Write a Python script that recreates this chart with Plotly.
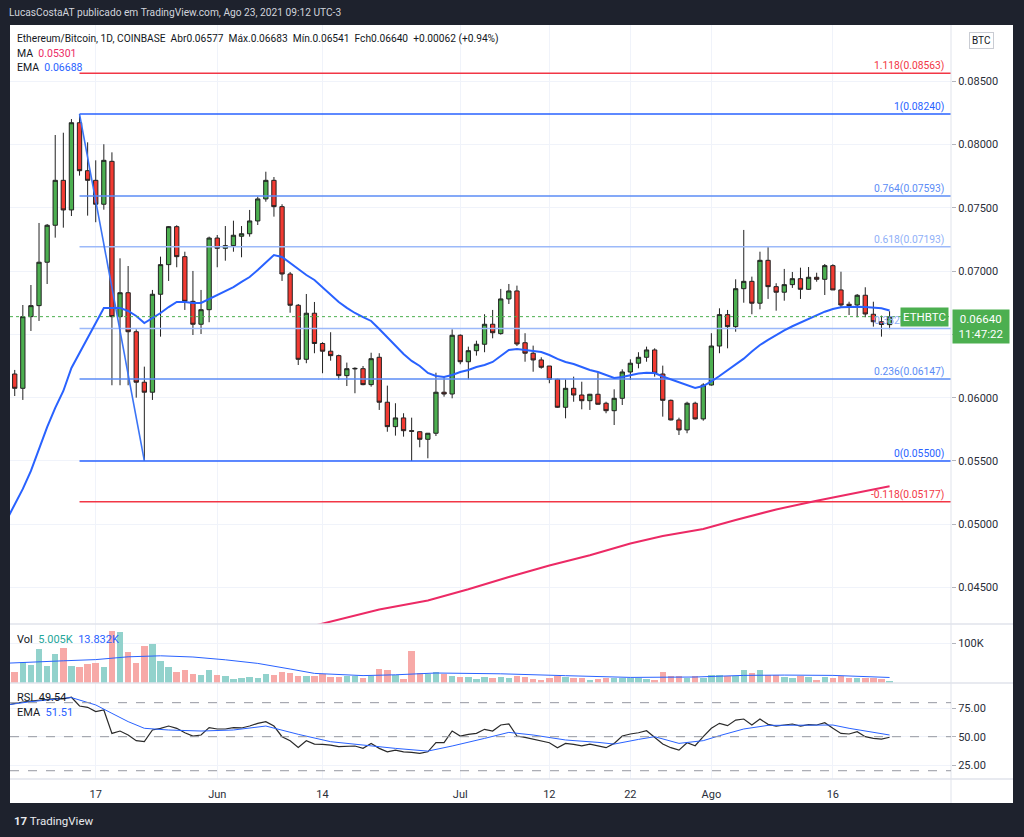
import plotly.graph_objects as go
import pandas as pd

W, H = 1024, 837

# ---------------- data ----------------
dates = pd.date_range("2021-05-07", periods=109, freq="D")

open_ = [
    .06187, .06074, .06640, .06727, .07070, .07362, .07717, .07483, .08172, .07793,
    .07717, .07528, .07867, .06640, .06829, .06521, .06122, .06043, .06817, .07051,
    .07351, .07114, .06761, .06580, .06695, .07261, .07180, .07201, .07275, .07295,
    .07396, .07570, .07717, .07509, .06977, .06730, .06303, .06667, .06428, .06367,
    .06332, .06174, .06227, .06229, .06103, .06319, .05964, .05771, .05840, .05739,
    .05731, .05671, .05719, .06043, .06029, .06493, .06284, .06371, .06422, .06580,
    .06506, .06780, .06843, .06434, .06351, .06298, .06250, .06145, .05924, .06074,
    .06021, .05976, .06027, .05956, .05897, .05995, .06203, .06272, .06319, .06377,
    .06187, .05979, .05824, .05745, .05956, .05832, .06100, .06408, .06656, .06561,
    .06861, .06919, .06746, .07085, .06877, .06833, .06893, .06940, .06856, .06951,
    .06935, .07043, .06851, .06738, .06732, .06809, .06659, .06600, .06577]
high = [
    .06219, .06732, .06890, .07380, .07372, .08075, .08093, .08201, .08240, .08017,
    .07875, .08002, .07938, .07101, .07040, .06540, .06245, .06851, .07114, .07356,
    .07362, .07153, .07001, .06851, .07272, .07285, .07356, .07398, .07356, .07483,
    .07588, .07785, .07743, .07528, .06993, .06740, .06819, .06756, .06438, .06517,
    .06340, .06277, .06240, .06250, .06355, .06351, .06095, .05956, .05877, .05842,
    .05735, .05721, .06197, .06171, .06540, .06500, .06403, .06450, .06659, .06693,
    .06859, .06898, .06885, .06509, .06411, .06319, .06250, .06150, .06145, .06166,
    .06126, .06030, .06197, .05968, .06066, .06224, .06303, .06359, .06403, .06390,
    .06253, .05985, .05842, .05968, .05968, .06114, .06509, .06706, .06693, .06935,
    .07325, .06956, .07153, .07198, .06904, .07017, .06993, .07027, .07032, .06987,
    .07056, .07054, .06995, .06758, .06819, .06872, .06758, .06648, .06683]
low = [
    .06013, .05982, .06527, .06606, .06898, .07264, .07343, .07435, .07754, .07438,
    .07386, .07485, .06098, .06098, .06098, .06000, .05500, .05982, .06482, .06922,
    .07030, .06693, .06495, .06503, .06596, .07030, .07082, .07153, .07109, .07272,
    .07364, .07548, .07430, .06922, .06671, .06258, .06272, .06351, .06193, .06292,
    .06140, .06092, .06035, .06098, .06087, .05903, .05731, .05700, .05692, .05500,
    .05608, .05521, .05697, .06008, .05995, .06264, .06145, .06332, .06359, .06469,
    .06498, .06740, .06408, .06284, .06205, .06229, .06114, .05920, .05837, .05968,
    .05908, .05903, .05945, .05877, .05784, .05942, .06140, .06232, .06284, .06166,
    .05850, .05820, .05705, .05719, .05827, .05818, .06095, .06351, .06390, .06521,
    .06750, .06659, .06698, .06780, .06687, .06766, .06867, .06780, .06851, .06916,
    .06811, .06851, .06714, .06653, .06635, .06635, .06561, .06482, .06541]
close = [
    .06074, .06640, .06727, .07070, .07362, .07717, .07483, .08172, .07793, .07717,
    .07528, .07875, .06640, .06829, .06521, .06122, .06043, .06817, .07051, .07351,
    .07114, .06761, .06580, .06695, .07261, .07180, .07201, .07283, .07295, .07396,
    .07570, .07717, .07509, .06977, .06730, .06303, .06667, .06428, .06367, .06332,
    .06174, .06229, .06231, .06103, .06308, .05964, .05771, .05840, .05739, .05735,
    .05671, .05719, .06043, .06029, .06493, .06284, .06371, .06422, .06580, .06513,
    .06780, .06843, .06424, .06351, .06298, .06240, .06145, .05924, .06074, .06021,
    .05976, .06027, .05948, .05897, .05995, .06203, .06272, .06319, .06377, .06193,
    .05979, .05824, .05745, .05956, .05832, .06100, .06408, .06656, .06561, .06861,
    .06919, .06746, .07085, .06877, .06833, .06893, .06940, .06856, .06951, .06935,
    .07043, .06851, .06732, .06727, .06809, .06661, .06600, .06578, .06640]

# volume in thousands
vol_k = [
    27.5, 51.5, 45.8, 85.0, 41.5, 73.0, 87.5, 41.5, 39.0, 48.0,
    50.8, 39.0, 130.8, 126.5, 78.0, 49.0, 92.5, 96.5, 55.8, 39.0,
    26.5, 33.0, 23.0, 19.0, 33.0, 20.8, 18.3, 10.8, 11.5, 15.8,
    11.5, 23.0, 19.0, 26.5, 25.0, 18.3, 16.5, 16.5, 21.7, 14.0,
    14.0, 18.3, 18.3, 11.5, 16.5, 35.0, 33.0, 19.0, 10.0, 80.8,
    25.0, 22.5, 27.5, 22.5, 18.3, 15.8, 14.0, 10.0, 14.0, 12.5,
    14.0, 11.5, 18.3, 15.8, 10.0, 7.5, 11.5, 16.5, 14.0, 11.5,
    11.5, 8.3, 9.2, 12.5, 12.5, 12.5, 12.5, 12.5, 10.0, 7.5,
    26.5, 16.5, 16.5, 12.5, 18.3, 12.5, 20.8, 20.8, 16.5, 18.3,
    32.5, 26.0, 32.5, 20.8, 20.8, 14.0, 11.5, 16.5, 14.0, 8.3,
    14.0, 11.5, 16.5, 12.5, 11.5, 11.5, 11.5, 10.0, 5.0]

# daily series starting one day earlier (2021-05-06)
line_dates = pd.date_range("2021-05-06", periods=110, freq="D")
ema_line = [
    .05034, .05152, .05279, .05421, .05595, .05768, .05919, .06053, .06235, .06353,
    .06472, .06598, .06709, .06709, .06709, .06685, .06645, .06590, .06630, .06669,
    .06716, .06756, .06756, .06748, .06748, .06780, .06811, .06843, .06874, .06914,
    .06953, .07009, .07072, .07127, .07111, .07064, .07017, .06969, .06930, .06874,
    .06819, .06756, .06709, .06669, .06637, .06606, .06543, .06479, .06416, .06345,
    .06290, .06250, .06195, .06171, .06163, .06179, .06203, .06219, .06242, .06258,
    .06282, .06329, .06377, .06385, .06377, .06369, .06361, .06337, .06306, .06282,
    .06266, .06242, .06219, .06203, .06179, .06156, .06163, .06179, .06191, .06197,
    .06195, .06167, .06144, .06124, .06104, .06077, .06092, .06128, .06171, .06219,
    .06262, .06308, .06365, .06416, .06456, .06495, .06531, .06564, .06594, .06618,
    .06649, .06679, .06701, .06714, .06716, .06719, .06716, .06712, .06706, .06688]
rsi = [
    78.0, 79.5, 80.6, 81.5, 82.4, 83.0, 83.6, 83.3, 84.8, 77.1,
    75.9, 72.1, 73.6, 52.9, 55.0, 51.5, 46.5, 45.6, 55.9, 57.4,
    59.4, 57.4, 53.5, 50.6, 51.5, 58.0, 56.8, 56.8, 58.0, 57.7,
    59.4, 61.8, 63.3, 59.4, 50.0, 46.5, 40.6, 46.5, 43.5, 43.2,
    42.6, 41.2, 41.8, 41.8, 39.7, 44.1, 39.7, 36.7, 38.2, 36.7,
    36.2, 35.3, 36.7, 44.7, 44.7, 55.0, 50.6, 52.1, 52.9, 56.5,
    55.0, 60.3, 61.2, 50.6, 49.4, 47.9, 46.5, 44.7, 40.3, 44.1,
    43.2, 42.0, 43.5, 41.8, 40.3, 44.1, 50.6, 52.4, 53.5, 55.3,
    49.4, 43.5, 40.3, 38.2, 44.7, 42.0, 50.0, 57.4, 61.8, 59.7,
    64.7, 65.6, 60.3, 65.6, 60.9, 59.4, 60.3, 61.2, 59.4, 60.6,
    60.3, 62.4, 57.4, 52.9, 52.4, 54.4, 50.0, 48.5, 47.9, 49.5]

# sparse readings: day offset from 2021-05-07
ma_day = [37, 45, 51, 56, 61, 66, 71, 76, 80, 85, 89, 94, 99, 104, 108]
ma_val = [.04199, .04327, .04398, .04486, .04583, .04674, .04755, .04848,
          .04907, .04962, .05034, .05117, .05186, .05253, .05301]
volma_day = [-1, 0, 2, 6, 10, 14, 18, 22, 26, 30, 34, 37, 43, 47, 52, 60, 68, 76, 84, 90, 95, 101, 108]
volma_val = [49.5, 50.5, 52.0, 55.5, 58.5, 65.5, 68.0, 65.0, 58.0, 49.0, 35.0, 24.0,
             18.5, 20.5, 25.0, 23.0, 18.3, 14.0, 15.0, 19.0, 19.8, 19.0, 13.8]
rsiema_day = [-1, 2, 7, 10, 12, 14, 16, 19, 23, 27, 31, 35, 39, 43, 47, 51, 54, 58, 61,
              64, 68, 72, 74, 77, 79, 82, 85, 87, 90, 93, 97, 101, 103, 105, 108]
rsiema_val = [78.0, 80.9, 84.5, 78.0, 70.6, 63.3, 57.4, 55.9, 55.0, 55.9, 59.4, 52.1,
              45.6, 42.6, 39.7, 37.3, 41.8, 48.5, 53.8, 51.5, 47.1, 45.0, 43.5, 47.6,
              50.0, 44.1, 46.5, 50.9, 56.8, 60.0, 60.3, 60.3, 57.4, 55.3, 51.5]

fib_levels = ["1.118", "1", "0.764", "0.618", "0.382", "0.236", "0", "-0.118"]
fib_prices = [0.08563, 0.08240, 0.07593, 0.07193, 0.06547, 0.06147, 0.05500, 0.05177]
fib_colors = ["#f23645", "#2962ff", "#5b8cf6", "#9cb9f9", "#9cb9f9", "#5b8cf6", "#2962ff", "#f23645"]
fib_start_day = 8      # swing high (index into dates)
fib_low_day = 16       # swing low

price_ticks = [0.045, 0.050, 0.055, 0.060, 0.065, 0.070, 0.075, 0.080, 0.085]
date_ticks = ["2021-05-17", "2021-06-01", "2021-06-14", "2021-07-01",
              "2021-07-12", "2021-07-22", "2021-08-01", "2021-08-16"]
date_labels = ["17", "Jun", "14", "Jul", "12", "22", "Ago", "16"]

# ---------------- helpers ----------------
def px(x):
    return x / W

def py(y):
    return 1 - y / H

X_RANGE = ["2021-05-06 10:00", "2021-08-30 14:00"]
X_DOM = [px(10), px(951)]
FONT = "Roboto, 'DejaVu Sans', sans-serif"
UP, DOWN = "#4caf50", "#f23a32"
BLUE = "#2962ff"
d0 = pd.Timestamp("2021-05-07")
day = lambda k: d0 + pd.Timedelta(days=k)

fig = go.Figure()

# candles
fig.add_trace(go.Candlestick(
    x=dates, open=open_, high=high, low=low, close=close,
    increasing=dict(line=dict(color="#222222", width=1), fillcolor=UP),
    decreasing=dict(line=dict(color="#222222", width=1), fillcolor=DOWN),
    whiskerwidth=0, showlegend=False, hoverinfo="skip", yaxis="y"))

# fib lines
for lv, p, c in zip(fib_levels, fib_prices, fib_colors):
    fig.add_trace(go.Scatter(x=[dates[fib_start_day], X_RANGE[1]], y=[p, p], mode="lines",
                             line=dict(color=c, width=1.5), showlegend=False,
                             hoverinfo="skip", yaxis="y"))
# fib trend line
fig.add_trace(go.Scatter(x=[dates[fib_start_day], dates[fib_low_day]],
                         y=[fib_prices[1], fib_prices[6]], mode="lines",
                         line=dict(color="#3b74f5", width=1.6), showlegend=False,
                         hoverinfo="skip", yaxis="y"))

# EMA and MA
fig.add_trace(go.Scatter(x=line_dates, y=ema_line, mode="lines",
                         line=dict(color=BLUE, width=2), showlegend=False,
                         hoverinfo="skip", yaxis="y"))
fig.add_trace(go.Scatter(x=[day(k) for k in ma_day], y=ma_val, mode="lines",
                         line=dict(color="#ec2a65", width=2), showlegend=False,
                         hoverinfo="skip", yaxis="y"))

# volume
vcol = ["#92d2cc" if c >= o else "#f7a9a7" for o, c in zip(open_, close)]
fig.add_trace(go.Bar(x=dates, y=vol_k, marker=dict(color=vcol, line=dict(width=0)),
                     width=0.8 * 86400000, showlegend=False, hoverinfo="skip", yaxis="y2"))
fig.add_trace(go.Scatter(x=[day(k) for k in volma_day], y=volma_val, mode="lines",
                         line=dict(color=BLUE, width=1), showlegend=False,
                         hoverinfo="skip", yaxis="y2"))

# RSI
fig.add_trace(go.Scatter(x=line_dates, y=rsi, mode="lines",
                         line=dict(color="#2a2a2a", width=1.2), showlegend=False,
                         hoverinfo="skip", yaxis="y3"))
fig.add_trace(go.Scatter(x=[day(k) for k in rsiema_day], y=rsiema_val, mode="lines",
                         line=dict(color=BLUE, width=1), showlegend=False,
                         hoverinfo="skip", yaxis="y3"))

shapes = []
# white chart panel
shapes.append(dict(type="rect", xref="paper", yref="paper", x0=px(10), x1=px(1013),
                   y0=py(803), y1=py(25), fillcolor="white", line=dict(width=0), layer="below"))
# separators
sep = "#e0e3eb"
for yy in (624, 683, 779):
    shapes.append(dict(type="line", xref="paper", yref="paper", x0=px(10), x1=px(1013),
                       y0=py(yy), y1=py(yy), line=dict(color=sep, width=1.5)))
shapes.append(dict(type="line", xref="paper", yref="paper", x0=px(951), x1=px(951),
                   y0=py(803), y1=py(25), line=dict(color=sep, width=1)))
# RSI bands
for lvl in (80, 50, 20):
    shapes.append(dict(type="line", xref="x domain", yref="y3", x0=0, x1=1, y0=lvl, y1=lvl,
                       line=dict(color="#9598a1", width=1, dash="dash")))
# current price dotted line
shapes.append(dict(type="line", xref="x domain", yref="y", x0=0, x1=1,
                   y0=close[-1], y1=close[-1], line=dict(color=UP, width=1, dash="dot")))

ann = []
def text(x, y, t, size=11.5, color="#131722", xa="left", ya="middle", family=FONT, **kw):
    ann.append(dict(x=x, y=y, xref="paper", yref="paper", text=t, showarrow=False,
                    xanchor=xa, yanchor=ya, font=dict(family=family, size=size, color=color), **kw))

nb = "\u00a0"
text(px(7), py(12), "LucasCostaAT publicado em TradingView.com, Ago 23, 2021 09:12 UTC-3",
     size=10.2, color="#d1d4dc")
text(px(15), py(39),
     f"Ethereum/Bitcoin, 1D, COINBASE{nb}{nb}Abr{open_[-1]:.5f}{nb}{nb}Máx.{high[-1]:.5f}{nb}{nb}"
     f"Mín.{low[-1]:.5f}{nb}{nb}Fch{close[-1]:.5f}{nb}{nb}+0.00062 (+0.94%)", size=10.2)
text(px(15), py(53), f"MA{nb}{nb}<span style='color:#ec2a65'>{ma_val[-1]:.5f}</span>", size=10.5)
text(px(15), py(67), f"EMA{nb}{nb}<span style='color:{BLUE}'>{ema_line[-1]:.5f}</span>", size=10.5)
text(px(15), py(639), f"Vol{nb}{nb}<span style='color:#26a69a'>5.005K</span>{nb}{nb}"
     f"<span style='color:{BLUE}'>13.832K</span>", size=11)
text(px(15), py(697), f"RSI{nb}{nb}49.54", size=11)
text(px(15), py(712), f"EMA{nb}{nb}<span style='color:{BLUE}'>51.51</span>", size=11)

# fib labels
for lv, p, c in zip(fib_levels, fib_prices, fib_colors):
    lc = c if c != "#9cb9f9" else "#8fb0f8"
    ann.append(dict(x=px(946), y=p, xref="paper", yref="y", text=f"{lv}({p:.5f})",
                    showarrow=False, xanchor="right", yanchor="bottom", yshift=-1,
                    font=dict(family=FONT, size=10.3, color=lc)))

# ETHBTC and price tags
ann.append(dict(x=px(949), y=close[-1], xref="paper", yref="y", text="ETHBTC", showarrow=False,
                xanchor="right", yanchor="middle", bgcolor=UP, borderpad=2,
                font=dict(family=FONT, size=11.5, color="white")))
ann.append(dict(x=px(952), y=py(309), xref="paper", yref="paper",
                text=f"{close[-1]:.5f}<br>11:47:22", showarrow=False, align="center",
                xanchor="left", yanchor="top", bgcolor=UP, borderpad=2, width=52,
                font=dict(family=FONT, size=11.5, color="white")))
ann.append(dict(x=px(981), y=py(40), xref="paper", yref="paper", text="BTC", showarrow=False,
                xanchor="center", yanchor="middle", bordercolor="#c9ccd3", borderwidth=1,
                borderpad=2, bgcolor="white", font=dict(family=FONT, size=10, color="#131722")))
text(px(12), py(821), "<b>17</b> TradingView", size=11.5, color="#e8eaee")

axis_font = dict(family=FONT, size=11, color="#2a2e39")
grid = "#f0f3fa"
fig.update_layout(
    width=W, height=H, autosize=False,
    margin=dict(l=0, r=0, t=0, b=0),
    paper_bgcolor="#1e222d", plot_bgcolor="white",
    showlegend=False, bargap=0, boxgap=0.24,
    shapes=shapes, annotations=ann,
    xaxis=dict(domain=X_DOM, anchor="y3", type="date", range=X_RANGE,
               tickvals=date_ticks, ticktext=date_labels, tickfont=axis_font,
               showgrid=True, gridcolor=grid, gridwidth=1, zeroline=False, showline=False,
               ticks="outside", ticklen=5, tickcolor="rgba(0,0,0,0)",
               rangeslider=dict(visible=False)),
    yaxis=dict(domain=[py(624), py(25)], range=[0.04212, 0.08944], side="right", anchor="x",
               tickvals=price_ticks, tickformat=".5f", tickfont=axis_font,
               ticks="outside", ticklen=4, tickcolor="#b2b5be",
               showgrid=True, gridcolor=grid, zeroline=False, showline=False),
    yaxis2=dict(domain=[py(683), py(624)], range=[0, 147.5], side="right", anchor="x",
                tickvals=[100], ticktext=["100K"], tickfont=axis_font,
                ticks="outside", ticklen=4, tickcolor="#b2b5be",
                showgrid=True, gridcolor=grid, zeroline=False, showline=False),
    yaxis3=dict(domain=[py(779), py(683)], range=[12.7, 97.35], side="right", anchor="x",
                tickvals=[25, 50, 75], ticktext=["25.00", "50.00", "75.00"], tickfont=axis_font,
                ticks="outside", ticklen=4, tickcolor="#b2b5be",
                showgrid=True, gridcolor=grid, zeroline=False, showline=False),
)

fig.write_html("out.html", config={"displayModeBar": False},
               post_script="document.body.style.margin='0';document.body.style.overflow='hidden';"
                           "document.body.style.background='#1e222d';")
